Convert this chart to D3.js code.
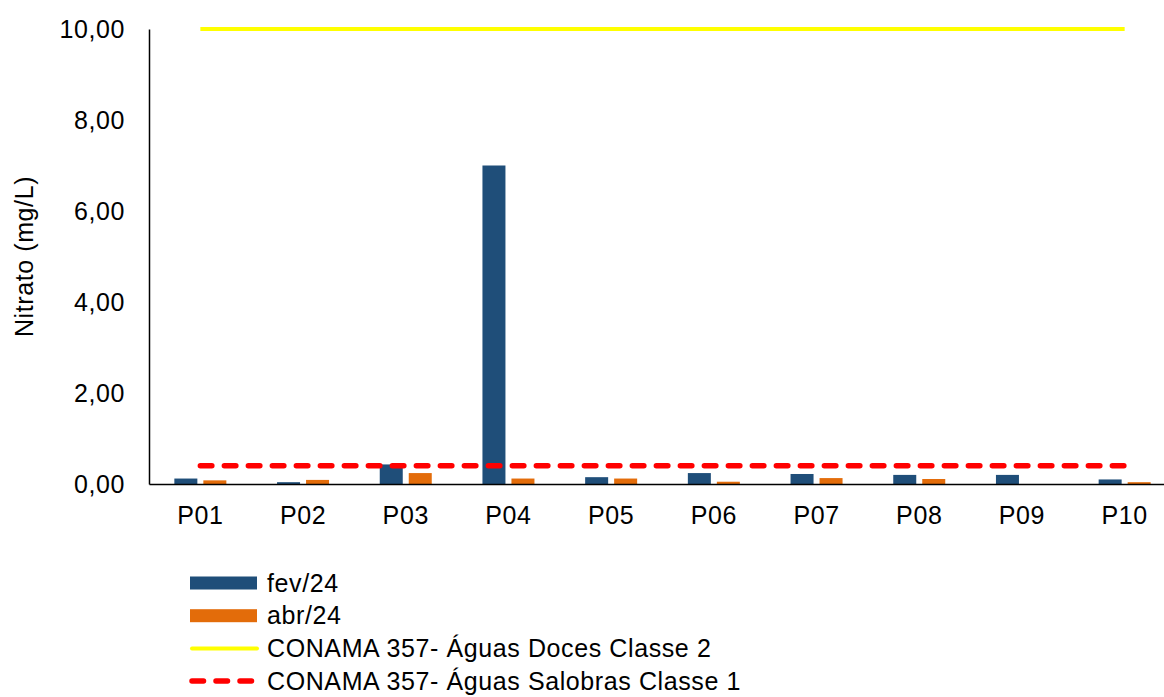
<!DOCTYPE html>
<html>
<head>
<meta charset="utf-8">
<script src="https://cdn.jsdelivr.net/npm/d3@7"></script>
<style>
  body { margin: 0; background: #fff; }
  text { font-family: "Liberation Sans", Arial, sans-serif; fill: #000; }
</style>
</head>
<body>
<div id="chart"></div>
<script>
const categories = ["P01", "P02", "P03", "P04", "P05", "P06", "P07", "P08", "P09", "P10"];
const fev24 = [0.12, 0.04, 0.43, 7.00, 0.15, 0.24, 0.22, 0.20, 0.20, 0.10];
const abr24 = [0.08, 0.09, 0.24, 0.12, 0.12, 0.05, 0.13, 0.11, 0.00, 0.04];
const limiteDoces = 10.0;
const limiteSalobras = 0.40;
const yTicks = [0, 2, 4, 6, 8, 10];

const width = 1164, height = 697;
const margin = { left: 149, right: -12, top: 29, bottom: 213 };
const fontSize = 25, spacing = "0.6px";

const svg = d3.select("#chart").append("svg")
  .attr("width", width).attr("height", height);

const x = d3.scaleBand().domain(categories)
  .range([margin.left, width - margin.right]);
const y = d3.scaleLinear().domain([0, 10])
  .range([height - margin.bottom, margin.top]);

const barW = 23, gap = 6;
const fmt = v => d3.format(".2f")(v).replace(".", ",");

// y axis labels
const yAxis = svg.append("g")
  .attr("transform", `translate(${margin.left},0)`)
  .call(d3.axisLeft(y).tickValues(yTicks).tickFormat(fmt).tickSize(0).tickPadding(24));
yAxis.select(".domain").attr("stroke", "#000").attr("stroke-width", 1.5);
yAxis.selectAll("text").attr("font-size", fontSize).attr("letter-spacing", spacing)
  .style("font-family", "Liberation Sans, Arial, sans-serif");

// bars
svg.append("g").selectAll("rect.fev")
  .data(categories)
  .join("rect")
  .attr("x", d => x(d) + x.bandwidth() / 2 - gap / 2 - barW)
  .attr("y", (d, i) => y(fev24[i]))
  .attr("width", barW)
  .attr("height", (d, i) => y(0) - y(fev24[i]))
  .attr("fill", "#1f4e79");

svg.append("g").selectAll("rect.abr")
  .data(categories)
  .join("rect")
  .attr("x", d => x(d) + x.bandwidth() / 2 + gap / 2)
  .attr("y", (d, i) => y(abr24[i]))
  .attr("width", barW)
  .attr("height", (d, i) => y(0) - y(abr24[i]))
  .attr("fill", "#e36c0a");

// x axis
const xAxis = svg.append("g")
  .attr("transform", `translate(0,${y(0)})`)
  .call(d3.axisBottom(x).tickSize(0).tickPadding(22));
xAxis.select(".domain").attr("stroke", "#000").attr("stroke-width", 1.5);
xAxis.selectAll("text").attr("font-size", fontSize).attr("letter-spacing", spacing)
  .style("font-family", "Liberation Sans, Arial, sans-serif");

// reference lines
const line = d3.line().x(d => x(d[0]) + x.bandwidth() / 2).y(d => y(d[1]));
svg.append("path")
  .attr("d", line(categories.map(c => [c, limiteDoces])))
  .attr("fill", "none").attr("stroke", "#ffff00").attr("stroke-width", 4);
svg.append("path")
  .attr("d", line(categories.map(c => [c, limiteSalobras])))
  .attr("fill", "none").attr("stroke", "#ff0000").attr("stroke-width", 5.5)
  .attr("stroke-dasharray", "11.5,12.5").attr("stroke-linecap", "round");

// y title
svg.append("text")
  .attr("transform", `translate(33,${(y(0) + y(10)) / 2}) rotate(-90)`)
  .attr("text-anchor", "middle")
  .attr("font-size", fontSize).attr("letter-spacing", spacing)
  .text("Nitrato (mg/L)");

// legend
const legend = [
  { label: "fev/24", type: "rect", color: "#1f4e79" },
  { label: "abr/24", type: "rect", color: "#e36c0a" },
  { label: "CONAMA 357- Águas Doces Classe 2", type: "line", color: "#ffff00" },
  { label: "CONAMA 357- Águas Salobras Classe 1", type: "dash", color: "#ff0000" }
];
const lg = svg.append("g").selectAll("g").data(legend).join("g")
  .attr("transform", (d, i) => `translate(190,${583 + i * 32.7})`);
lg.filter(d => d.type === "rect").append("rect")
  .attr("x", 0).attr("y", -6.5).attr("width", 67).attr("height", 13)
  .attr("fill", d => d.color);
lg.filter(d => d.type !== "rect").append("line")
  .attr("x1", 2).attr("x2", 67).attr("y1", 0).attr("y2", 0)
  .attr("stroke", d => d.color).attr("stroke-width", d => d.type === "dash" ? 5.5 : 4)
  .attr("stroke-linecap", "round")
  .attr("stroke-dasharray", d => d.type === "dash" ? "11.5,12.5" : null);
lg.append("text")
  .attr("x", 77).attr("y", 0).attr("dy", "0.35em")
  .attr("font-size", fontSize).attr("letter-spacing", spacing)
  .text(d => d.label);
</script>
</body>
</html>
